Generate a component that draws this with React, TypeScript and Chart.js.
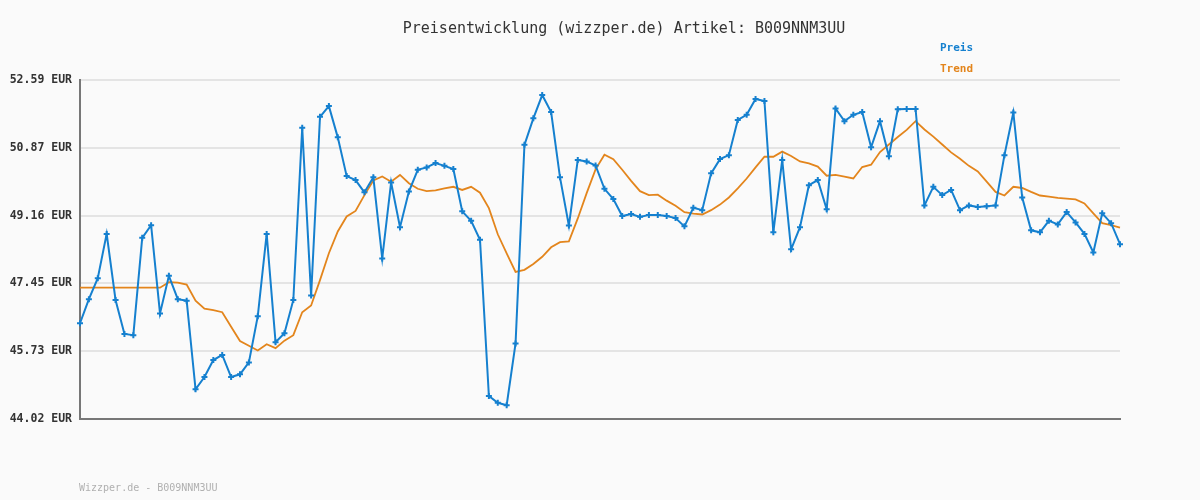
import React, { useEffect, useRef } from "react";
import { Chart, registerables } from "chart.js";

Chart.register(...registerables);

const preis: number[] = [
  46.44, 47.05, 47.58, 48.70, 47.03, 46.17, 46.14, 48.60, 48.92, 46.69,
  47.64, 47.05, 47.01, 44.77, 45.08, 45.51, 45.64, 45.08, 45.15, 45.45,
  46.62, 48.70, 45.96, 46.19, 47.03, 51.38, 47.14, 51.66, 51.93, 51.14,
  50.16, 50.06, 49.75, 50.13, 48.08, 50.00, 48.87, 49.77, 50.32, 50.38,
  50.49, 50.42, 50.34, 49.27, 49.03, 48.55, 44.60, 44.43, 44.37, 45.93,
  50.95, 51.62, 52.21, 51.78, 50.13, 48.91, 50.57, 50.53, 50.43, 49.84,
  49.58, 49.15, 49.20, 49.13, 49.18, 49.18, 49.15, 49.10, 48.89, 49.36,
  49.30, 50.23, 50.59, 50.69, 51.58, 51.71, 52.11, 52.06, 48.74, 50.57,
  48.31, 48.87, 49.93, 50.06, 49.32, 51.87, 51.55, 51.71, 51.78, 50.89,
  51.55, 50.66, 51.85, 51.86, 51.86, 49.42, 49.89, 49.68, 49.81, 49.30,
  49.42, 49.38, 49.40, 49.42, 50.69, 51.77, 49.62, 48.79, 48.74, 49.03,
  48.94, 49.25, 48.99, 48.70, 48.23, 49.22, 48.97, 48.44,
];

const trend: number[] = [
  47.34, 47.34, 47.34, 47.34, 47.34, 47.34, 47.34, 47.34, 47.34, 47.34,
  47.48, 47.47, 47.42, 47.01, 46.81, 46.77, 46.72, 46.35, 45.99, 45.87,
  45.75, 45.91, 45.81, 46.00, 46.14, 46.72, 46.89, 47.53, 48.21, 48.76,
  49.14, 49.28, 49.68, 50.05, 50.15, 50.02, 50.19, 49.98, 49.84, 49.78,
  49.80, 49.85, 49.89, 49.81, 49.89, 49.74, 49.35, 48.69, 48.21, 47.74,
  47.79, 47.94, 48.12, 48.36, 48.49, 48.51, 49.09, 49.73, 50.33, 50.70,
  50.59, 50.32, 50.04, 49.78, 49.68, 49.69, 49.54, 49.41, 49.25, 49.21,
  49.19, 49.30, 49.44, 49.62, 49.85, 50.10, 50.38, 50.65, 50.65, 50.78,
  50.67, 50.53, 50.48, 50.40, 50.17, 50.19, 50.15, 50.10, 50.39, 50.45,
  50.77, 50.96, 51.15, 51.33, 51.55, 51.34, 51.16, 50.96, 50.76, 50.60,
  50.42, 50.28, 50.02, 49.76, 49.67, 49.89, 49.86, 49.76, 49.67, 49.64,
  49.61, 49.59, 49.57, 49.47, 49.22, 48.97, 48.92, 48.86,
];

const yTicks: number[] = [44.02, 45.73, 47.45, 49.16, 50.87, 52.59];

const labels: string[] = preis.map((_, i) => String(i + 1));

const titleText = "Preisentwicklung (wizzper.de) Artikel: B009NNM3UU";
const legendItems: string[] = ["Preis", "Trend"];
const footerText = "Wizzper.de - B009NNM3UU";

const BLUE = "#1580cf";
const ORANGE = "#e3851c";
const MONO = '"DejaVu Sans Mono", "Liberation Mono", monospace';

export default function App() {
  const ref = useRef<HTMLCanvasElement | null>(null);

  useEffect(() => {
    document.body.style.margin = "0";
    document.body.style.background = "#fafafa";
    const canvas = ref.current;
    if (!canvas) return;

    const decor = {
      id: "decor",
      beforeDraw(chart: any) {
        const ctx = chart.ctx;
        ctx.save();
        ctx.fillStyle = "#fafafa";
        ctx.fillRect(0, 0, chart.width, chart.height);
        ctx.restore();
      },
      afterDraw(chart: any) {
        const ctx = chart.ctx;
        ctx.save();
        ctx.textBaseline = "alphabetic";
        ctx.textAlign = "center";
        ctx.fillStyle = "#333333";
        ctx.font = `15px ${MONO}`;
        ctx.fillText(titleText, 624, 33);

        ctx.textAlign = "left";
        ctx.font = `bold 11px ${MONO}`;
        ctx.fillStyle = BLUE;
        ctx.fillText(legendItems[0], 940, 51);
        ctx.fillStyle = ORANGE;
        ctx.fillText(legendItems[1], 940, 72);

        ctx.font = `10px ${MONO}`;
        ctx.fillStyle = "#b0b0b0";
        ctx.fillText(footerText, 79, 491);
        ctx.restore();
      },
    };

    const chart = new Chart(canvas, {
      type: "line",
      data: {
        labels,
        datasets: [
          {
            label: "Preis",
            data: preis,
            borderColor: BLUE,
            backgroundColor: BLUE,
            borderWidth: 2,
            pointStyle: "cross",
            pointRadius: 3,
            pointBorderWidth: 2,
            pointBorderColor: BLUE,
            pointBackgroundColor: BLUE,
            tension: 0,
            order: 1,
          },
          {
            label: "Trend",
            data: trend,
            borderColor: ORANGE,
            backgroundColor: ORANGE,
            borderWidth: 1.8,
            pointRadius: 0,
            tension: 0,
            order: 2,
          },
        ],
      },
      options: {
        responsive: false,
        animation: false,
        layout: { padding: { top: 80, right: 80, bottom: 81, left: 0 } },
        plugins: {
          legend: { display: false },
          title: { display: false },
          tooltip: { enabled: false },
        },
        scales: {
          x: {
            type: "category",
            offset: false,
            grid: { display: false },
            ticks: { display: false },
            border: { display: true, color: "#777777", width: 2 },
            afterFit(scale: any) {
              scale.height = 0;
            },
          },
          y: {
            type: "linear",
            min: yTicks[0],
            max: yTicks[yTicks.length - 1],
            afterBuildTicks(scale: any) {
              scale.ticks = yTicks.map((v) => ({ value: v }));
            },
            afterFit(scale: any) {
              scale.width = 80;
            },
            grid: {
              color: "#e4e4e4",
              lineWidth: 2,
              drawTicks: false,
            },
            border: { display: true, color: "#777777", width: 2 },
            ticks: {
              padding: 8,
              color: "#333333",
              font: { family: MONO, size: 11.5, weight: "bold" },
              callback: (v: any) => Number(v).toFixed(2) + " EUR",
            },
          },
        },
      },
      plugins: [decor],
    });

    return () => chart.destroy();
  }, []);

  return (
    <div style={{ width: 1200, height: 500 }}>
      <canvas ref={ref} width={1200} height={500} style={{ display: "block" }} />
    </div>
  );
}
